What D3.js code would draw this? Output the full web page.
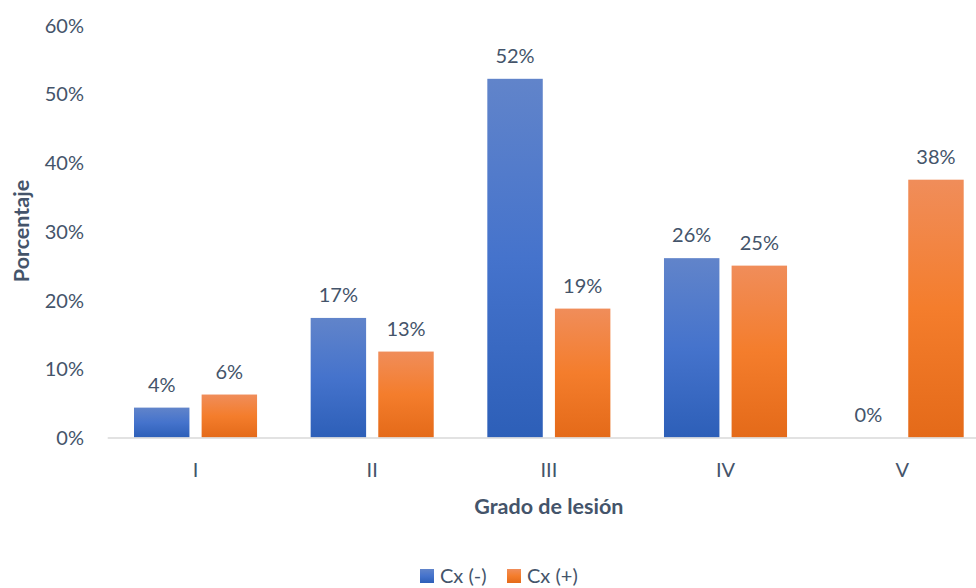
<!DOCTYPE html>
<html>
<head>
<meta charset="utf-8">
<script src="https://cdn.jsdelivr.net/npm/d3@7"></script>
<style>
  html, body { margin: 0; padding: 0; background: #fff; }
  svg { display: block; overflow: hidden; }
</style>
</head>
<body>
<svg id="chart" width="976" height="588"></svg>
<script>
// Grado de lesión por grupo de cultivo
const categories = ["I", "II", "III", "IV", "V"];
const seriesNames = ["Cx (-)", "Cx (+)"];
const cxNeg = [1 / 23, 4 / 23, 12 / 23, 6 / 23, 0];
const cxPos = [1 / 16, 2 / 16, 3 / 16, 4 / 16, 6 / 16];
const yTicks = [0, 0.1, 0.2, 0.3, 0.4, 0.5, 0.6];

const seriesValues = [cxNeg, cxPos];
const rows = categories.map((c, i) => ({ cat: c, vals: seriesValues.map(s => s[i]) }));

const font = "Lato, 'Open Sans', sans-serif";
const textColor = "#44546a";
const labelSize = 20;
const titleSize = 21.5;
const svg = d3.select("#chart");

const x = d3.scaleBand().domain(categories).range([107.2, 990.5]).paddingInner(0).paddingOuter(0);
const xInner = d3.scaleBand().domain(seriesNames).range([26.8, x.bandwidth() - 26.8]).paddingInner(0.18);
const y = d3.scaleLinear().domain([0, 0.6]).range([437.5, 25]);

// vertical gradients for the bars
const defs = svg.append("defs");
const grads = [
  { id: "gBlue", top: "#6184ca", mid: "#4573cc", bot: "#2d5fb8" },
  { id: "gOrange", top: "#f08d5a", mid: "#f47d2c", bot: "#e46a19" }
];
grads.forEach(g => {
  const lg = defs.append("linearGradient").attr("id", g.id)
    .attr("x1", 0).attr("y1", 0).attr("x2", 0).attr("y2", 1);
  lg.append("stop").attr("offset", "0%").attr("stop-color", g.top);
  lg.append("stop").attr("offset", "50%").attr("stop-color", g.mid);
  lg.append("stop").attr("offset", "100%").attr("stop-color", g.bot);
});
const fills = ["url(#gBlue)", "url(#gOrange)"];

// y axis labels (no line, no ticks)
const yAxis = d3.axisLeft(y).tickValues(yTicks).tickFormat(d3.format(".0%")).tickSize(0).tickPadding(0);
const yG = svg.append("g").attr("transform", "translate(84,0)").call(yAxis);
yG.select(".domain").remove();
yG.selectAll("text").attr("font-family", font).attr("font-size", labelSize).attr("fill", textColor)
  .attr("dy", "0.35em");

// bars
const groups = svg.append("g").selectAll("g").data(rows).join("g")
  .attr("transform", d => `translate(${x(d.cat)},0)`);

groups.selectAll("rect").data(d => d.vals.map((v, i) => ({ v, i })))
  .join("rect")
  .attr("x", d => xInner(seriesNames[d.i]))
  .attr("width", xInner.bandwidth())
  .attr("y", d => y(d.v))
  .attr("height", d => y(0) - y(d.v))
  .attr("fill", d => fills[d.i]);

// value labels
groups.selectAll("text").data(d => d.vals.map((v, i) => ({ v, i })))
  .join("text")
  .attr("x", d => xInner(seriesNames[d.i]) + xInner.bandwidth() / 2)
  .attr("y", d => y(d.v) - 16)
  .attr("text-anchor", "middle")
  .attr("font-family", font).attr("font-size", labelSize).attr("fill", textColor)
  .text(d => d3.format(".0%")(d.v));

// x axis
const xAxis = d3.axisBottom(x).tickSize(0).tickPadding(0);
const xG = svg.append("g").attr("transform", `translate(0,${y(0)})`).call(xAxis);
xG.select(".domain").attr("stroke", "#d9d9d9").attr("stroke-width", 1.5);
xG.selectAll("text").attr("font-family", font).attr("font-size", labelSize).attr("fill", textColor)
  .attr("dy", 0).attr("y", 39);

// axis titles
svg.append("text").attr("x", (107.2 + 990.5) / 2).attr("y", 514)
  .attr("text-anchor", "middle").attr("font-family", font).attr("font-weight", "bold")
  .attr("font-size", titleSize).attr("fill", textColor).text("Grado de lesión");

svg.append("text").attr("transform", "translate(29,231) rotate(-90)")
  .attr("text-anchor", "middle").attr("font-family", font).attr("font-weight", "bold")
  .attr("font-size", titleSize).attr("fill", textColor).text("Porcentaje");

// legend
const legendItems = [
  { name: seriesNames[0], fill: fills[0], x: 420 },
  { name: seriesNames[1], fill: fills[1], x: 507 }
];
const lg = svg.append("g").selectAll("g").data(legendItems).join("g")
  .attr("transform", d => `translate(${d.x},569)`);
lg.append("rect").attr("width", 14).attr("height", 14).attr("fill", d => d.fill);
lg.append("text").attr("x", 20).attr("y", 14).attr("font-family", font).attr("font-size", labelSize)
  .attr("fill", textColor).text(d => d.name);
</script>
</body>
</html>
